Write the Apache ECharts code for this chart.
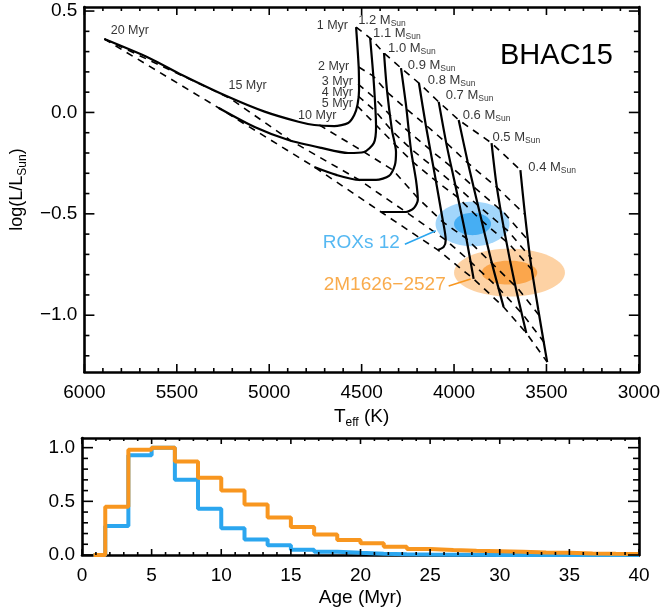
<!DOCTYPE html>
<html>
<head>
<meta charset="utf-8">
<script src="https://cdn.jsdelivr.net/npm/echarts@6.0.0/dist/echarts.min.js"></script>
<style>
  html, body { margin: 0; padding: 0; background: #fff; }
  #view { width: 663px; height: 610px; }
</style>
</head>
<body>
<div id="view"></div>
<script>
var FONT = 'Liberation Sans, Arial, Helvetica, sans-serif';

// BHAC15 evolutionary tracks, [Teff (K), log L/Lsun]
var track12 = [[4530, 0.421], [4516, 0.224], [4514, 0.110], [4522, 0.040], [4540, -0.013], [4573, -0.052], [4648, -0.067], [4756, -0.062], [4842, -0.046], [5025, 0.004], [5219, 0.076], [5472, 0.185], [5650, 0.269], [5892, 0.362]];
var track11 = [[4454, 0.367], [4434, 0.145], [4422, -0.072], [4434, -0.151], [4487, -0.195], [4573, -0.200], [4718, -0.175], [4896, -0.136], [5079, -0.072], [5273, 0.022]];
var track10 = [[4379, 0.293], [4363, 0.111], [4336, -0.087], [4314, -0.195], [4320, -0.259], [4352, -0.313], [4422, -0.333], [4513, -0.333], [4637, -0.308], [4756, -0.269]];
var track09 = [[4287, 0.219], [4260, 0.037], [4233, -0.185], [4206, -0.333], [4196, -0.432], [4217, -0.471], [4260, -0.491], [4395, -0.491]];
var track08 = [[4190, 0.145], [4153, -0.062], [4104, -0.308], [4066, -0.506], [4045, -0.629], [4056, -0.663], [4088, -0.678]];
var track07 = [[4083, 0.052], [4040, -0.161], [3991, -0.368], [3937, -0.604], [3894, -0.821]];
var track06 = [[3975, -0.037], [3926, -0.244], [3862, -0.491], [3797, -0.737], [3732, -0.959]];
var track05 = [[3797, -0.151], [3770, -0.358], [3727, -0.589], [3673, -0.836], [3609, -1.088]];
var track04 = [[3641, -0.284], [3619, -0.481], [3587, -0.728], [3544, -0.974], [3512, -1.147], [3496, -1.231]];
var tracks = [track12, track11, track10, track09, track08, track07, track06, track05, track04];

// isochrones (same units), from 1.2 down to 0.4 Msun
var iso1 = [[4530, 0.421], [4454, 0.367], [4379, 0.293], [4287, 0.219], [4190, 0.145], [4083, 0.052], [3975, -0.037], [3797, -0.151], [3641, -0.284]];
var iso2 = [[4516, 0.224], [4438, 0.180], [4363, 0.101], [4258, 0.017], [4153, -0.062], [4040, -0.151], [3926, -0.249], [3770, -0.368], [3619, -0.501]];
var iso3 = [[4519, 0.140], [4430, 0.071], [4347, -0.013], [4244, -0.096], [4128, -0.185], [4014, -0.269], [3881, -0.377], [3728, -0.496], [3600, -0.629]];
var iso4 = [[4519, 0.081], [4426, 0.007], [4336, -0.091], [4233, -0.180], [4112, -0.269], [4001, -0.353], [3867, -0.461], [3707, -0.585], [3579, -0.723]];
var iso5 = [[4524, 0.032], [4422, -0.062], [4322, -0.156], [4223, -0.244], [4098, -0.338], [3982, -0.417], [3856, -0.530], [3696, -0.654], [3563, -0.792]];
var iso10 = [[4729, -0.062], [4487, -0.195], [4331, -0.284], [4196, -0.422], [4061, -0.540], [3937, -0.619], [3792, -0.747], [3652, -0.871], [3528, -1.014]];
var iso15 = [[5892, 0.362], [5214, 0.071], [4880, -0.141], [4513, -0.333], [4260, -0.491], [4045, -0.629], [3910, -0.737], [3754, -0.871], [3625, -0.999], [3506, -1.142]];
var iso20 = [[5892, 0.362], [5273, 0.022], [4756, -0.269], [4395, -0.491], [4088, -0.678], [3894, -0.821], [3732, -0.959], [3609, -1.088], [3496, -1.231]];
var isochrones = [iso1, iso2, iso3, iso4, iso5, iso10, iso15, iso20];

// labels
var massNames = ['1.2', '1.1', '1.0', '0.9', '0.8', '0.7', '0.6', '0.5', '0.4'];
var massLabelAt = [[4519, 0.456], [4438, 0.392], [4357, 0.318], [4250, 0.234], [4142, 0.160], [4045, 0.086], [3953, -0.013], [3792, -0.121], [3598, -0.269]];
var ageNames = ['1 Myr', '2 Myr', '3 Myr', '4 Myr', '5 Myr', '10 Myr', '15 Myr', '20 Myr'];
var ageLabelAt = [[4574, 0.431], [4567, 0.226], [4547, 0.152], [4547, 0.096], [4547, 0.042], [4637, -0.013], [5014, 0.135], [5651, 0.403]];

// stars: centre [Teff, logL] and 1-sigma [Teff, logL]
var roxsCenter = [3900, -0.55];
var roxsSigma = [100, 0.055];
var m1626Center = [3700, -0.79];
var m1626Sigma = [150, 0.059];
var roxsPointer = [[4266, -0.650], [4099, -0.583]];
var m1626Pointer = [[4029, -0.856], [3910, -0.821]];
var roxsLabelAt = [4293, -0.644];
var m1626LabelAt = [4045, -0.851];

// age histograms (left bin edges, Myr; last entry closes the final bin)
var ageEdges = [0.83, 1.67, 3.33, 5, 6.67, 8.33, 10, 11.67, 13.33, 15, 16.67, 18.33, 20, 21.67, 23.33, 25, 26.67, 28.33, 30, 31.67, 33.33, 35, 36.67, 38.33, 40];
var histM1626 = [0, 0.45, 0.98, 1.0, 0.87, 0.72, 0.60, 0.47, 0.35, 0.26, 0.19, 0.14, 0.11, 0.078, 0.056, 0.047, 0.040, 0.035, 0.030, 0.024, 0.020, 0.015, 0.012, 0.010, 0.010];
var histRoxs = [0, 0.27, 0.93, 1.0, 0.70, 0.43, 0.25, 0.145, 0.09, 0.05, 0.03, 0.02, 0.012, 0.008, 0.005, 0.003, 0.002, 0.001, 0.001, 0, 0, 0, 0, 0, 0];

// tick values
var teffMajor = [3000, 3500, 4000, 4500, 5000, 5500, 6000];
var lumMajor = [-1, -0.5, 0, 0.5];
var ageMajor = [0, 5, 10, 15, 20, 25, 30, 35, 40];
var fracMajor = [0, 0.5, 1];

var BLUE = '#2ba6ef';
var ORANGE = '#f8961f';

var TOP_X = [3000, 6000], TOP_YR = [-1.28, 0.52];
var BOT_X = [0, 40], BOT_YR = [0, 1.09];

function fmt(v) { return v.toFixed(1).replace('-', '\u2212'); }

// minor ticks: 5 per major interval
function minors(major, lo, hi) {
    var step = (major[1] - major[0]) / 5, out = [];
    for (var k = -4; k <= 400; k++) {
        var r = Math.round((major[0] + k * step) * 1000) / 1000;
        if (r > hi + 1e-9) break;
        if (r >= lo - 1e-9 && major.indexOf(r) < 0) out.push(r);
    }
    return out;
}

function frameAxis(grid, pos, min, max, extra) {
    var ax = {
        type: 'value', gridIndex: grid, position: pos, min: min, max: max,
        axisLine: { show: true, onZero: false, lineStyle: { color: '#000', width: 2.6 } },
        axisTick: { show: false },
        splitLine: { show: false },
        axisLabel: { show: false }
    };
    return Object.assign(ax, extra || {});
}

var labelStyle = { show: true, color: '#000', fontSize: 19, fontFamily: FONT };

var xAxes = [
    frameAxis(0, 'bottom', TOP_X[0], TOP_X[1], {
        inverse: true, interval: 500,
        axisLabel: Object.assign({ margin: 11, formatter: function (v) { return String(v); } }, labelStyle),
        name: 'T{s|eff} (K)', nameLocation: 'middle', nameGap: 29,
        nameTextStyle: { color: '#000', fontSize: 19, fontFamily: FONT, rich: { s: { fontSize: 12, fontFamily: FONT, padding: [12, 0, 0, 0] } } }
    }),
    frameAxis(0, 'top', TOP_X[0], TOP_X[1], { inverse: true, interval: 500 }),
    frameAxis(1, 'bottom', BOT_X[0], BOT_X[1], {
        interval: 5,
        axisLabel: Object.assign({ margin: 11, formatter: function (v) { return String(v); } }, labelStyle),
        name: 'Age (Myr)', nameLocation: 'middle', nameGap: 33,
        nameTextStyle: { color: '#000', fontSize: 19, fontFamily: FONT }
    }),
    frameAxis(1, 'top', BOT_X[0], BOT_X[1], { interval: 5 })
];

var yAxes = [
    frameAxis(0, 'left', TOP_YR[0], TOP_YR[1], {
        axisLabel: Object.assign({ margin: 7, customValues: lumMajor, formatter: fmt }, labelStyle),
        name: 'log(L/L{s|Sun})', nameLocation: 'middle', nameGap: 49,
        nameTextStyle: { color: '#000', fontSize: 18, fontFamily: FONT, rich: { s: { fontSize: 12, fontFamily: FONT, padding: [12, 0, 0, 0] } } }
    }),
    frameAxis(0, 'right', TOP_YR[0], TOP_YR[1]),
    frameAxis(1, 'left', BOT_YR[0], BOT_YR[1], {
        axisLabel: Object.assign({ margin: 7, customValues: fracMajor, formatter: fmt }, labelStyle)
    }),
    frameAxis(1, 'right', BOT_YR[0], BOT_YR[1])
];

var series = [];

function ellipseSeries(center, sigma, colors) {
    return {
        type: 'custom', xAxisIndex: 0, yAxisIndex: 0, z: 1, silent: true,
        data: [[center[0], center[1], sigma[0], sigma[1], 2], [center[0], center[1], sigma[0], sigma[1], 1]],
        renderItem: function (params, api) {
            var c = api.coord([api.value(0), api.value(1)]);
            var s = api.size([api.value(2), api.value(3)]);
            var k = api.value(4);
            var pts = [];
            for (var i = 0; i < 72; i++) {
                var a = i / 72 * Math.PI * 2;
                pts.push([c[0] + k * s[0] * Math.cos(a), c[1] + k * s[1] * Math.sin(a)]);
            }
            return { type: 'polygon', shape: { points: pts }, style: { fill: colors[params.dataIndex] } };
        }
    };
}
series.push(ellipseSeries(roxsCenter, roxsSigma, ['#a2d6fb', '#46aef3']));
series.push(ellipseSeries(m1626Center, m1626Sigma, ['#fdd2a4', '#fba64c']));

isochrones.forEach(function (iso) {
    series.push({
        type: 'line', xAxisIndex: 0, yAxisIndex: 0, data: iso, showSymbol: false, z: 3,
        lineStyle: { color: '#000', width: 1.6, type: [7, 6] }
    });
});
tracks.forEach(function (tr) {
    series.push({
        type: 'line', xAxisIndex: 0, yAxisIndex: 0, data: tr, showSymbol: false, smooth: 0.25, z: 4,
        lineStyle: { color: '#000', width: 2.2 }
    });
});

series.push({ type: 'line', xAxisIndex: 0, yAxisIndex: 0, data: roxsPointer, showSymbol: false, z: 4, lineStyle: { color: BLUE, width: 1.6 } });
series.push({ type: 'line', xAxisIndex: 0, yAxisIndex: 0, data: m1626Pointer, showSymbol: false, z: 4, lineStyle: { color: ORANGE, width: 1.6 } });

// mass labels
series.push({
    type: 'scatter', xAxisIndex: 0, yAxisIndex: 0, symbolSize: 0, z: 5, silent: true,
    data: massLabelAt.map(function (p, i) { return { value: p, name: massNames[i] }; }),
    label: {
        show: true, position: [0, 0], align: 'left', verticalAlign: 'middle',
        formatter: function (p) { return '{m|' + p.name + ' M}{s|Sun}'; },
        rich: {
            m: { fontSize: 13, fontFamily: FONT, color: '#000' },
            s: { fontSize: 8.5, fontFamily: FONT, color: '#000', padding: [8, 0, 0, 0] }
        }
    }
});
// age labels
series.push({
    type: 'scatter', xAxisIndex: 0, yAxisIndex: 0, symbolSize: 0, z: 5, silent: true,
    data: ageLabelAt.map(function (p, i) { return { value: p, name: ageNames[i] }; }),
    label: {
        show: true, position: [0, 0], align: 'right', verticalAlign: 'middle',
        formatter: '{b}', fontSize: 12.5, fontFamily: FONT, color: '#000'
    }
});
// star labels
series.push({
    type: 'scatter', xAxisIndex: 0, yAxisIndex: 0, symbolSize: 0, z: 5, silent: true,
    data: [
        { value: roxsLabelAt, name: 'ROXs 12', label: { color: BLUE } },
        { value: m1626LabelAt, name: '2M1626\u22122527', label: { color: ORANGE } }
    ],
    label: {
        show: true, position: [0, 0], align: 'right', verticalAlign: 'middle',
        formatter: '{b}', fontSize: 19, fontFamily: FONT
    }
});

// histograms
function histSeries(vals, color) {
    return {
        type: 'line', xAxisIndex: 2, yAxisIndex: 2, step: 'end', showSymbol: false, clip: false, z: 3,
        data: ageEdges.map(function (a, i) { return [a, vals[i]]; }),
        lineStyle: { color: color, width: 4 }
    };
}
series.push(histSeries(histRoxs, BLUE));
series.push(histSeries(histM1626, ORANGE));

var option = {
    animation: false,
    backgroundColor: '#fff',
    title: { text: 'BHAC15', left: 495, top: 36, textStyle: { fontSize: 29, fontWeight: 'normal', fontFamily: FONT, color: '#000' } },
    grid: [
        { left: 82, right: 24, top: 7, height: 365 },
        { left: 82, right: 24, top: 438, height: 117 }
    ],
    xAxis: xAxes,
    yAxis: yAxes,
    series: series
};

var chart = echarts.init(document.getElementById('view'));
chart.setOption(option);

// inward frame ticks on all four sides, positioned through the axes' scales
function frameTicks(finder, xr, yr, xMaj, yMaj, lens, els) {
    var a = chart.convertToPixel(finder, [xr[0], yr[0]]);
    var b = chart.convertToPixel(finder, [xr[1], yr[1]]);
    var left = Math.min(a[0], b[0]), right = Math.max(a[0], b[0]);
    var top = Math.min(a[1], b[1]), bottom = Math.max(a[1], b[1]);
    function seg(x1, y1, x2, y2) {
        els.push({ type: 'line', silent: true, z: 100, shape: { x1: x1, y1: y1, x2: x2, y2: y2 }, style: { stroke: '#000', lineWidth: 1.6 } });
    }
    function xt(list, len) {
        list.forEach(function (v) {
            var px = chart.convertToPixel(finder, [v, yr[0]])[0];
            seg(px, bottom, px, bottom - len);
            seg(px, top, px, top + len);
        });
    }
    function yt(list, len) {
        list.forEach(function (v) {
            var py = chart.convertToPixel(finder, [xr[0], v])[1];
            seg(left, py, left + len, py);
            seg(right, py, right - len, py);
        });
    }
    xt(xMaj, lens[0]); xt(minors(xMaj, xr[0], xr[1]), lens[1]);
    yt(yMaj, lens[2]); yt(minors(yMaj, yr[0], yr[1]), lens[3]);
}

try {
    var tickEls = [];
    frameTicks({ xAxisIndex: 0, yAxisIndex: 0 }, TOP_X, TOP_YR, teffMajor, lumMajor, [8, 4, 10, 5], tickEls);
    frameTicks({ xAxisIndex: 2, yAxisIndex: 2 }, BOT_X, BOT_YR, ageMajor, fracMajor, [6, 3, 11, 6], tickEls);
    chart.setOption({ graphic: { elements: tickEls } });
} catch (e) { }
</script>
</body>
</html>
